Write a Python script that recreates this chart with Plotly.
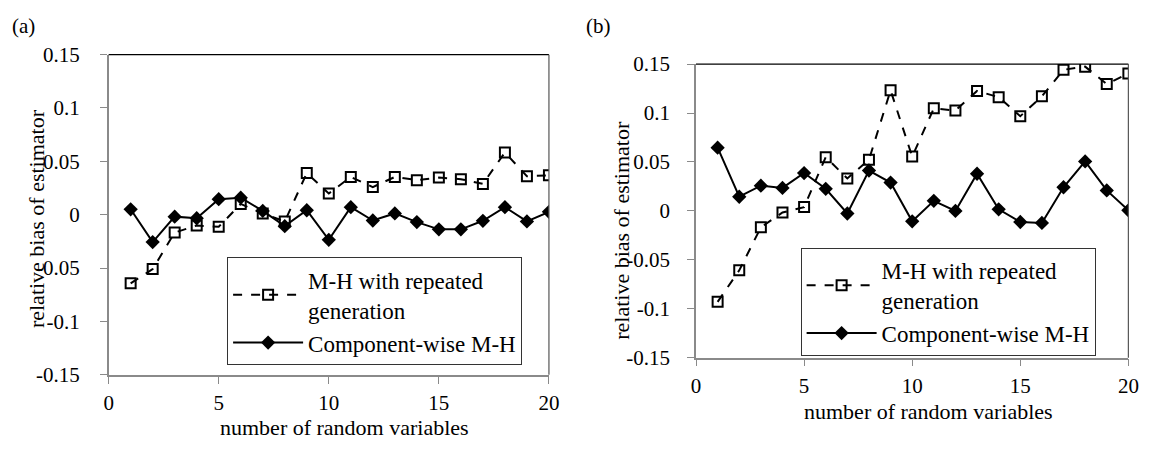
import plotly.graph_objects as go

n_vars = list(range(1, 21))

a_repeated = [-0.0643, -0.0509, -0.0167, -0.0101, -0.0113, 0.0101, 0.0012, -0.0063, 0.0390, 0.0199,
              0.0354, 0.0259, 0.0354, 0.0324, 0.0348, 0.0333, 0.0289, 0.0583, 0.0360, 0.0369]
a_component = [0.0051, -0.0256, -0.0018, -0.0033, 0.0146, 0.0160, 0.0036, -0.0107, 0.0042, -0.0235,
               0.0071, -0.0054, 0.0012, -0.0069, -0.0137, -0.0137, -0.0057, 0.0071, -0.0063, 0.0027]
b_repeated = [-0.0929, -0.0607, -0.0168, -0.0016, 0.0039, 0.0549, 0.0332, 0.0523, 0.1232, 0.0555,
              0.1048, 0.1026, 0.1226, 0.1162, 0.0968, 0.1171, 0.1442, 0.1474, 0.1297, 0.1404]
b_component = [0.0646, 0.0145, 0.0258, 0.0235, 0.0387, 0.0226, -0.0026, 0.0413, 0.0290, -0.0106,
               0.0103, 0.0000, 0.0380, 0.0016, -0.0113, -0.0123, 0.0242, 0.0506, 0.0210, 0.0006]

y_ticks = [-0.15, -0.1, -0.05, 0, 0.05, 0.1, 0.15]
y_labels = ["-0.15", "-0.1", "-0.05", "0", "0.05", "0.1", "0.15"]
x_ticks = [0, 5, 10, 15, 20]

name_rep = "M-H with repeated<br>generation"
name_comp = "Component-wise M-H"

SERIF = "Liberation Serif, Times New Roman, DejaVu Serif, serif"
fig = go.Figure()

def add_panel(rep, comp, xa, ya, leg):
    fig.add_trace(go.Scatter(x=n_vars, y=rep, mode="lines+markers", name=name_rep,
                             xaxis=xa, yaxis=ya, legend=leg,
                             line=dict(color="black", width=2, dash="dash"),
                             marker=dict(symbol="square-open", size=10, color="black",
                                         line=dict(width=2, color="black"))))
    fig.add_trace(go.Scatter(x=n_vars, y=comp, mode="lines+markers", name=name_comp,
                             xaxis=xa, yaxis=ya, legend=leg,
                             line=dict(color="black", width=2),
                             marker=dict(symbol="diamond", size=11, color="black")))

add_panel(a_repeated, a_component, "x", "y", "legend")
add_panel(b_repeated, b_component, "x2", "y2", "legend2")

axis_common = dict(showgrid=False, zeroline=False, showline=True, linecolor="#8a8a8a",
                   linewidth=1.5, ticks="outside", tickcolor="#8a8a8a", ticklen=7,
                   tickfont=dict(family=SERIF, size=21, color="black"), mirror=False)

leg_common = dict(xanchor="left", yanchor="top", bordercolor="#333", borderwidth=1,
                  bgcolor="white", font=dict(family=SERIF, size=23, color="black"),
                  tracegroupgap=0, itemwidth=70)

fig.update_layout(
    width=1164, height=455, margin=dict(l=0, r=0, t=0, b=0),
    plot_bgcolor="white", paper_bgcolor="white",
    font=dict(family=SERIF, color="black"),
    xaxis=dict(domain=[0.0902, 0.4734], range=[0, 20], tickvals=x_ticks, anchor="y",
               ticklabelstandoff=1, **axis_common),
    yaxis=dict(domain=[0.1582, 0.9011], range=[-0.15, 0.15], tickvals=y_ticks, ticktext=y_labels,
               anchor="x", ticklabelstandoff=16, **axis_common),
    xaxis2=dict(domain=[0.6014, 0.9777], range=[0, 20], tickvals=x_ticks, anchor="y2",
                ticklabelstandoff=1, **axis_common),
    yaxis2=dict(domain=[0.1978, 0.8791], range=[-0.15, 0.15], tickvals=y_ticks, ticktext=y_labels,
                anchor="x2", ticklabelstandoff=13, **axis_common),
    legend=dict(x=225 / 1164, y=1 - 259 / 455, **leg_common),
    legend2=dict(x=806 / 1164, y=1 - 249 / 455, **leg_common),
    showlegend=True,
)

# top and right frame lines
for xr, yr in [("x", "y"), ("x2", "y2")]:
    fig.add_shape(type="line", xref=f"{xr} domain", yref=f"{yr} domain", x0=0, x1=1, y0=1, y1=1,
                  line=dict(color="black", width=1.2))
    fig.add_shape(type="line", xref=f"{xr} domain", yref=f"{yr} domain", x0=1, x1=1, y0=0, y1=1,
                  line=dict(color="#555", width=1.2))

annotations = [
    dict(text="(a)", x=19 / 1164, y=1 - 15 / 455, size=21),
    dict(text="(b)", x=601 / 1164, y=1 - 15 / 455, size=21),
    dict(text="relative bias of estimator", x=32 / 1164, y=1 - 218 / 455, textangle=-90),
    dict(text="relative bias of estimator", x=625 / 1164, y=1 - 230 / 455, textangle=-90),
    dict(text="number of random variables", x=344 / 1164, y=1 - 439 / 455),
    dict(text="number of random variables", x=936 / 1164, y=1 - 422 / 455),
]
for a in annotations:
    size = a.pop("size", 22)
    fig.add_annotation(xref="paper", yref="paper", showarrow=False, xanchor="center", yanchor="middle",
                       font=dict(family=SERIF, size=size, color="black"), **a)

fig.write_html("out.html", config={"displayModeBar": False},
               post_script="document.body.style.margin='0';")
